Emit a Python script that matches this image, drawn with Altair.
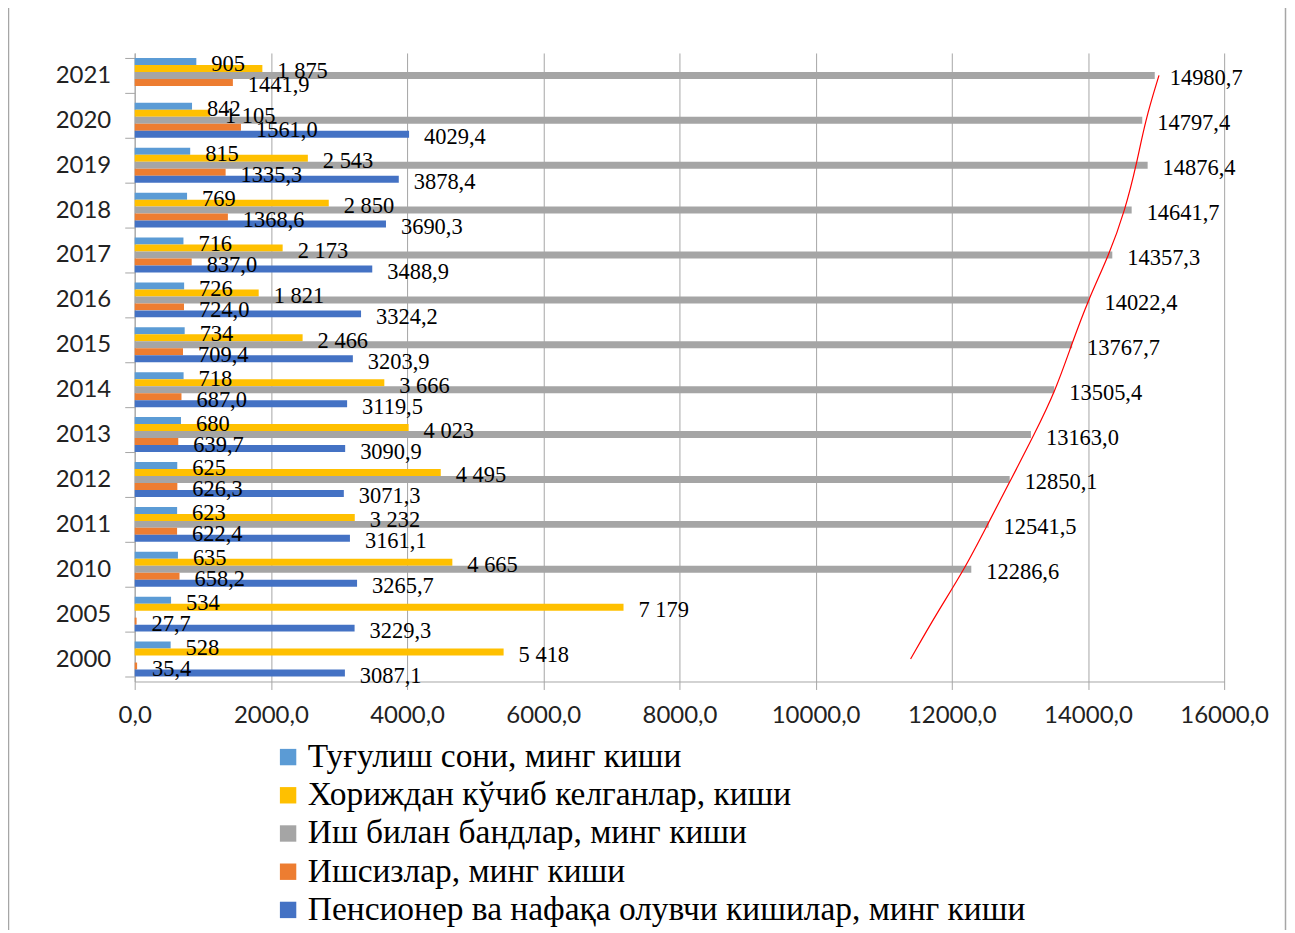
import altair as alt
import pandas as pd

years = ["2000", "2005", "2010", "2011", "2012", "2013", "2014", "2015",
         "2016", "2017", "2018", "2019", "2020", "2021"]

series_names = [
    "Туғулиш сони, минг киши",
    "Хориждан кўчиб келганлар,  киши",
    "Иш билан бандлар, минг киши",
    "Ишсизлар, минг киши",
    "Пенсионер ва нафақа олувчи кишилар, минг киши",
]
series_colors = ["#5B9BD5", "#FFC000", "#A5A5A5", "#ED7D31", "#4472C4"]

births = [528, 534, 635, 623, 625, 680, 718, 734, 726, 716, 769, 815, 842, 905]
immigrants = [5418, 7179, 4665, 3232, 4495, 4023, 3666, 2466, 1821, 2173, 2850, 2543, 1105, 1875]
employed = [None, None, 12286.6, 12541.5, 12850.1, 13163.0, 13505.4, 13767.7,
            14022.4, 14357.3, 14641.7, 14876.4, 14797.4, 14980.7]
unemployed = [35.4, 27.7, 658.2, 622.4, 626.3, 639.7, 687.0, 709.4, 724.0, 837.0,
              1368.6, 1335.3, 1561.0, 1441.9]
pensioners = [3087.1, 3229.3, 3265.7, 3161.1, 3071.3, 3090.9, 3119.5, 3203.9,
              3324.2, 3488.9, 3690.3, 3878.4, 4029.4, None]

# red hand-drawn trend curve at each year row
trend_values = [11395, 11771, 12186, 12527, 12869, 13211, 13529, 13758,
                14003, 14310, 14545, 14711, 14842, 15043]

x_ticks = [0, 2000, 4000, 6000, 8000, 10000, 12000, 14000, 16000]


def fmt(kind, v):
    if kind == 0:
        return f"{int(v)}"
    if kind == 1:
        return f"{int(v):,}".replace(",", " ")
    return f"{v:.1f}".replace(".", ",")


rows = []
for k, (name, vals) in enumerate(zip(series_names,
                                     [births, immigrants, employed, unemployed, pensioners])):
    for yr, v in zip(years, vals):
        if v is None:
            continue
        rows.append({"year": yr, "series": name, "value": v, "label": fmt(k, v)})
df = pd.DataFrame(rows)
trend_df = pd.DataFrame({"year": years, "value": trend_values})

year_order = years[::-1]

W, H = 1092, 630
LEFT, TOP = 127, 44
RIGHT, BOTTOM = 63, 248

y_enc = alt.Y("year:N", sort=year_order,
              scale=alt.Scale(paddingInner=0.222, paddingOuter=0.111),
              axis=alt.Axis(title=None, grid=False, domainColor="#a6a6a6",
                            tickColor="#a6a6a6", tickSize=10, tickBand="extent",
                            labelFont="Lato", labelFontSize=24, labelColor="#222222",
                            labelPadding=14))
x_enc = alt.X("value:Q",
              scale=alt.Scale(domain=[0, 16000], nice=False),
              axis=alt.Axis(title=None, values=x_ticks, grid=True, gridColor="#a6a6a6",
                            domainColor="#a6a6a6", tickColor="#a6a6a6", tickSize=8,
                            labelFont="Lato", labelFontSize=24, labelColor="#222222",
                            labelPadding=14, labelFlush=False, labelOverlap=False,
                            labelExpr="replace(format(datum.value, '.1f'), '.', ',')"))
yoff = alt.YOffset("series:N", sort=series_names,
                   scale=alt.Scale(domain=series_names, paddingInner=0, paddingOuter=0))

base = alt.Chart(df)

bars = base.mark_bar(size=7).encode(
    x=x_enc,
    y=y_enc,
    yOffset=yoff,
    color=alt.Color("series:N", sort=series_names,
                    scale=alt.Scale(domain=series_names, range=series_colors),
                    legend=alt.Legend(title=None, orient="none", legendX=137, legendY=689,
                                      symbolType="square", symbolSize=270,
                                      symbolStrokeWidth=0,
                                      labelFont="Liberation Serif", labelFontSize=33.5,
                                      labelColor="#000000", labelLimit=1200,
                                      rowPadding=3.3, labelOffset=3)),
)

texts = base.mark_text(align="left", baseline="middle", dx=15, dy=3,
                       font="Liberation Serif", fontSize=22.5, color="#000000").encode(
    x="value:Q",
    y=alt.Y("year:N", sort=year_order),
    yOffset=yoff,
    text="label:N",
)

trend = alt.Chart(trend_df).mark_line(color="#FF0000", strokeWidth=1.2,
                                      interpolate="basis").encode(
    x="value:Q",
    y=alt.Y("year:N", sort=year_order),
)

border = alt.Chart(alt.Data(values=[{}])).mark_rect(
    fill=None, stroke="#a6a6a6", strokeWidth=1.5).encode(
    x=alt.value(-126.5), x2=alt.value(W + RIGHT - 1.5),
    y=alt.value(-46.5), y2=alt.value(H + BOTTOM + 20),
)

chart = alt.layer(bars, texts, trend, border).properties(
    width=W, height=H,
    autosize=alt.AutoSizeParams(type="none"),
    padding={"left": LEFT, "top": TOP, "right": RIGHT, "bottom": BOTTOM},
    background="white",
).configure_view(stroke=None)

chart.save("out.html", embed_options={"renderer": "svg", "actions": False})
